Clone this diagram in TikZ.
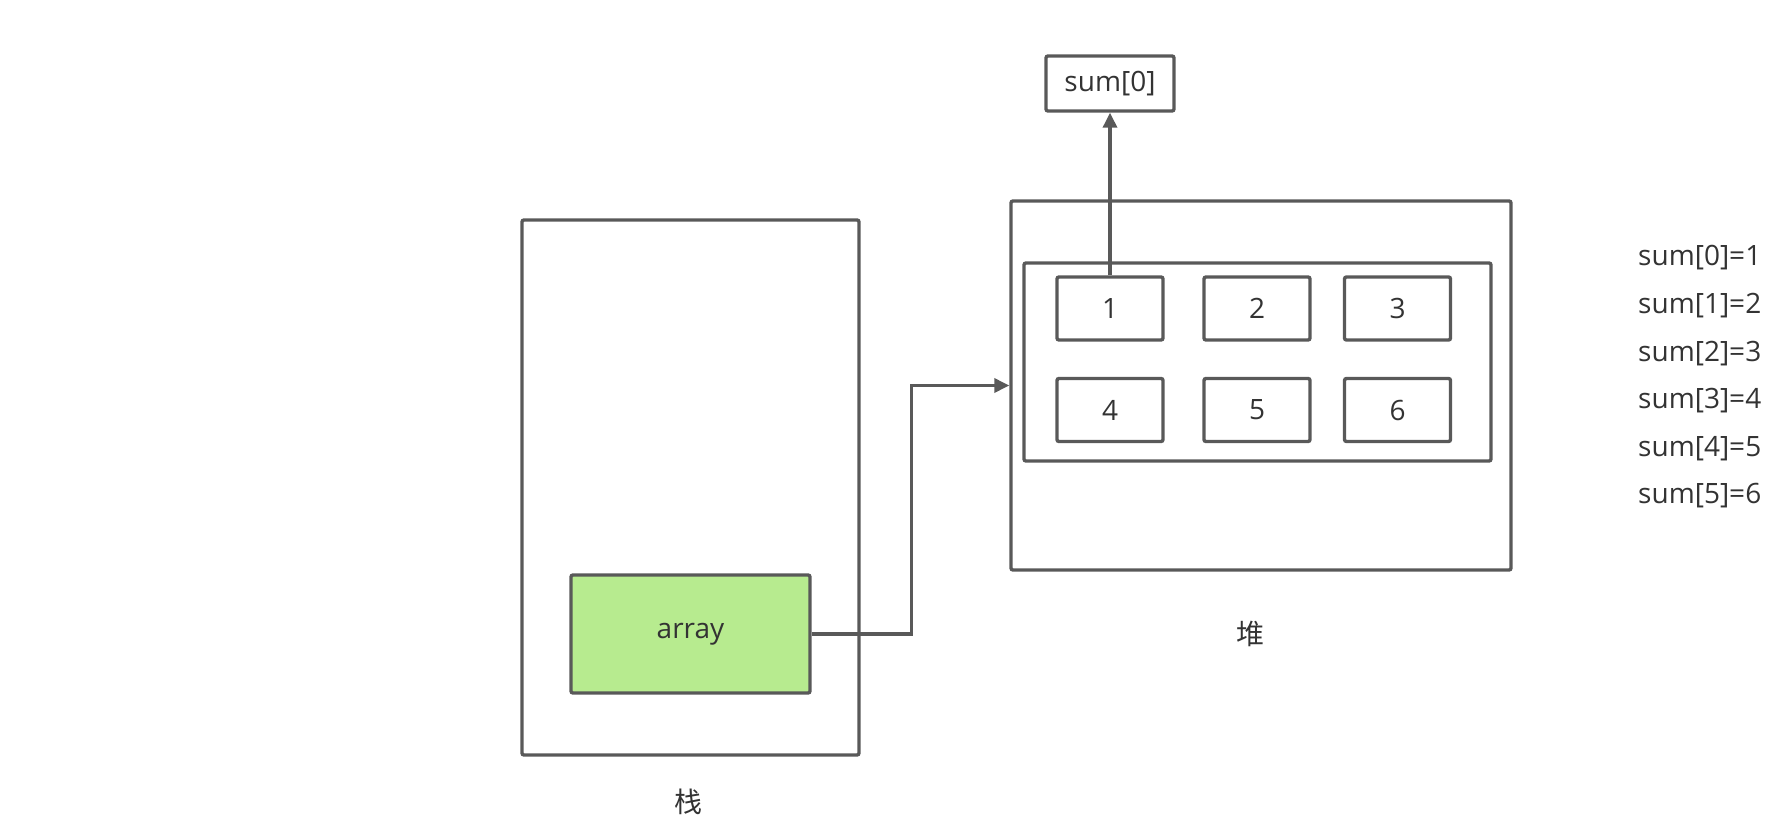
\documentclass[tikz,border=0pt]{standalone}
\usepackage{fontspec}
\setmainfont{Open Sans}
\newfontfamily\cjk{Noto Sans CJK SC}
\usetikzlibrary{arrows.meta}
\definecolor{edge}{HTML}{595959}
\definecolor{txt}{HTML}{333333}
\definecolor{green}{HTML}{B7EB8F}
\tikzset{
  box/.style={draw=edge, line width=3.4pt, rounded corners=2pt, inner sep=0pt, text=txt, font=\fontsize{28}{32}\selectfont},
  lbl/.style={text=txt, inner sep=0pt, font=\fontsize{28}{32}\selectfont},
  arr/.style={draw=edge, line width=3.4pt, -{Triangle[length=15pt,width=14pt]}},
}
\begin{document}
\begin{tikzpicture}[x=1pt,y=-1pt]
\useasboundingbox (0,0) rectangle (1781,838);
% stack
\node[box, minimum width=337pt, minimum height=535pt] (stack) at (690.5,487.5) {};
\node[box, fill=green, minimum width=239pt, minimum height=118pt] (array) at (690.5,634) {array};
\node[lbl] (stacklbl) at (688,802) {\cjk 栈};
% heap
\node[box, minimum width=500pt, minimum height=369pt] (heap) at (1261,385.5) {};
\node[box, minimum width=467pt, minimum height=198pt] (inner) at (1257.5,362) {};
\node[box, minimum width=106pt, minimum height=63pt] (c1) at (1110,308.5) {1};
\node[box, minimum width=106pt, minimum height=63pt] (c2) at (1257,308.5) {2};
\node[box, minimum width=106pt, minimum height=63pt] (c3) at (1397.5,308.5) {3};
\node[box, minimum width=106pt, minimum height=63pt] (c4) at (1110,410) {4};
\node[box, minimum width=106pt, minimum height=63pt] (c5) at (1257,410) {5};
\node[box, minimum width=106pt, minimum height=63pt] (c6) at (1397.5,410) {6};
\node[lbl] (heaplbl) at (1250,634) {\cjk 堆};
% sum[0]
\node[box, minimum width=128pt, minimum height=55pt] (sum0) at (1110,83.5) {sum[0]};
\draw[arr] (c1.north) -- (sum0.south);
\draw[arr] (array.east) -- ++(100,0) |- (heap.west);
% right list
\node[lbl, anchor=west] (s0) at (1638,258) {sum[0]=1};
\node[lbl, anchor=west] (s1) at (1638,305.6) {sum[1]=2};
\node[lbl, anchor=west] (s2) at (1638,353.2) {sum[2]=3};
\node[lbl, anchor=west] (s3) at (1638,400.8) {sum[3]=4};
\node[lbl, anchor=west] (s4) at (1638,448.4) {sum[4]=5};
\node[lbl, anchor=west] (s5) at (1638,496) {sum[5]=6};
\end{tikzpicture}
\end{document}
